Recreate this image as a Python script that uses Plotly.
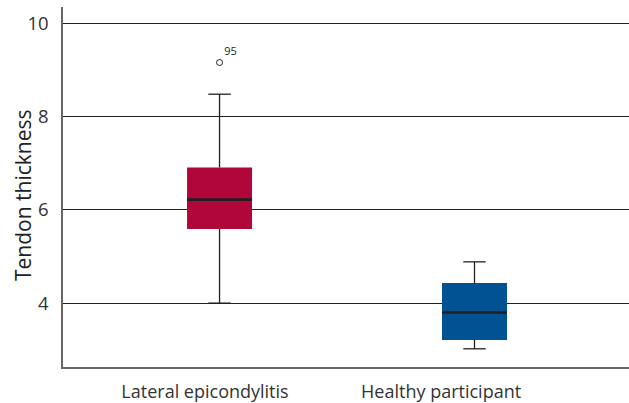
import plotly.graph_objects as go

# ---- data ----
categories = ["Lateral epicondylitis", "Healthy participant"]
q1 = [5.59, 3.21]
median = [6.22, 3.80]
q3 = [6.91, 4.43]
lower_whisker = [4.00, 3.02]
upper_whisker = [8.48, 4.885]
outlier_group = [0]
outlier_values = [9.16]
outlier_labels = ["95"]
y_ticks = [4, 6, 8, 10]

# ---- style ----
box_colors = ["#B0063A", "#005293"]
dark = "#231F20"
positions = [0, 1]
BOX_W = 0.255
FONT = "Open Sans"

fig = go.Figure()

# boxes (Q1..Q3)
fig.add_trace(go.Bar(
    x=positions,
    y=[b - a for a, b in zip(q1, q3)],
    base=q1,
    width=BOX_W,
    marker=dict(color=box_colors, line=dict(width=0)),
    hoverinfo="skip",
    showlegend=False,
))

# whisker stems
wx, wy = [], []
for p, a, b, lo, hi in zip(positions, q1, q3, lower_whisker, upper_whisker):
    wx += [p, p, None, p, p, None]
    wy += [b, hi, None, a, lo, None]
fig.add_trace(go.Scatter(x=wx, y=wy, mode="lines",
                         line=dict(color=dark, width=1.3),
                         hoverinfo="skip", showlegend=False))

# whisker caps
fig.add_trace(go.Scatter(
    x=positions + positions,
    y=upper_whisker + lower_whisker,
    mode="markers",
    marker=dict(symbol="line-ew-open", size=16, color=dark,
                line=dict(color=dark, width=1.3)),
    hoverinfo="skip", showlegend=False))

# medians
mx, my = [], []
for p, m in zip(positions, median):
    mx += [p - BOX_W / 2, p + BOX_W / 2, None]
    my += [m, m, None]
fig.add_trace(go.Scatter(x=mx, y=my, mode="lines",
                         line=dict(color=dark, width=2.6),
                         hoverinfo="skip", showlegend=False))

# outlier
fig.add_trace(go.Scatter(
    x=[positions[g] for g in outlier_group], y=outlier_values,
    mode="markers+text", text=outlier_labels, textposition="top right",
    textfont=dict(family=FONT, size=11, color=dark),
    marker=dict(symbol="circle-open", size=6, color=dark,
                line=dict(color=dark, width=1)),
    hoverinfo="skip", showlegend=False))

fig.update_layout(
    width=629, height=403,
    margin=dict(l=63, r=0, t=7, b=36, autoexpand=False),
    paper_bgcolor="white", plot_bgcolor="white",
    font=dict(family=FONT, color="#333333"),
    showlegend=False,
    hovermode=False,
    xaxis=dict(
        range=[-0.614, 1.606],
        tickvals=[-0.057, 0.869],
        ticktext=categories,
        tickfont=dict(size=18, color="#333333"),
        showgrid=False, zeroline=False,
        showline=True, linecolor="#666666", linewidth=1.5,
        ticks="", ticklabelstandoff=8, automargin=False,
    ),
    yaxis=dict(
        range=[2.63, 10.35],
        tickvals=y_ticks,
        tickfont=dict(size=18.5, color="#333333"),
        showgrid=True, gridcolor=dark, gridwidth=1,
        zeroline=False,
        showline=True, linecolor="#666666", linewidth=1.5,
        ticks="", ticklabelstandoff=9, automargin=False,
    ),
    annotations=[dict(
        text="Tendon thickness", textangle=-90,
        xref="paper", yref="paper",
        x=-(63 - 23) / 566, y=1 - (195 - 7) / 360,
        xanchor="center", yanchor="middle", showarrow=False,
        font=dict(family=FONT, size=21, color="#222222"),
    )],
)

fig.write_html(
    "out.html",
    config={"displayModeBar": False},
    post_script="document.body.style.margin='0px';document.body.style.overflow='hidden';",
)
